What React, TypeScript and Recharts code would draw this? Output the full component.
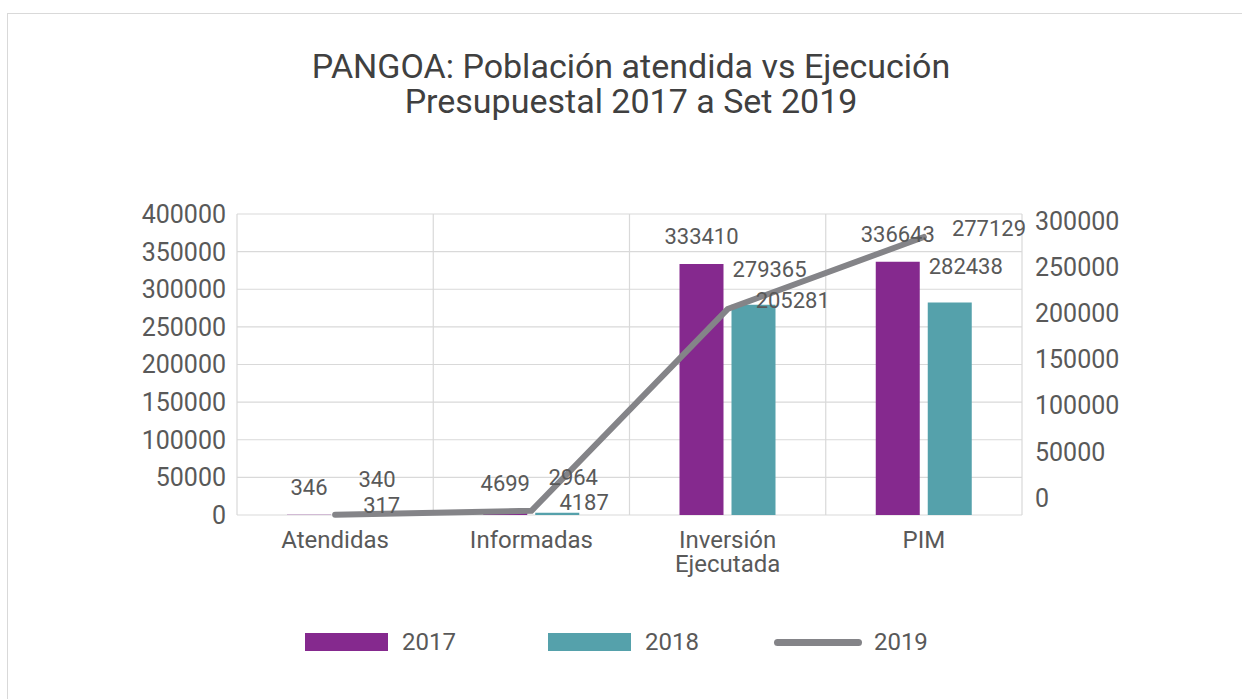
import React from 'react';
import {
  ComposedChart,
  Bar,
  Line,
  XAxis,
  YAxis,
  CartesianGrid,
  LabelList,
  Legend,
} from 'recharts';

const categories = ['Atendidas', 'Informadas', 'Inversión Ejecutada', 'PIM'];
const values2017 = [346, 4699, 333410, 336643];
const values2018 = [340, 2964, 279365, 282438];
const values2019 = [317, 4187, 205281, 277129];
const leftTicks = [0, 50000, 100000, 150000, 200000, 250000, 300000, 350000, 400000];
const rightTicks = [0, 50000, 100000, 150000, 200000, 250000, 300000];
const titleLines = ['PANGOA: Población atendida vs Ejecución', 'Presupuestal 2017 a Set 2019'];

const data = categories.map((name, i) => ({
  name,
  y2017: values2017[i],
  y2018: values2018[i],
  y2019: values2019[i],
}));

const FONT = 'Roboto, "Noto Sans", sans-serif';
const TEXT = '#595959';
const PURPLE = '#85298E';
const TEAL = '#55A1AB';
const GRAY = '#848488';
const GRID = '#d9d9d9';

const XTick = (props: any) => {
  const { x, y, payload } = props;
  const label = String(payload.value);
  const lines = label.length > 12 ? label.split(' ') : [label];
  return (
    <g>
      {lines.map((l, i) => (
        <text
          key={i}
          x={x}
          y={y + 33 + i * 24}
          textAnchor="middle"
          fill={TEXT}
          fontSize={24}
          fontFamily={FONT}
        >
          {l}
        </text>
      ))}
    </g>
  );
};

const LegendContent = () => {
  const items = [
    { label: '2017', type: 'rect', color: PURPLE, gap: 92 },
    { label: '2018', type: 'rect', color: TEAL, gap: 75 },
    { label: '2019', type: 'line', color: GRAY, gap: 0 },
  ];
  return (
    <div style={{ display: 'flex', alignItems: 'center', fontFamily: FONT }}>
      {items.map((it) => (
        <div
          key={it.label}
          style={{ display: 'flex', alignItems: 'center', marginRight: it.gap }}
        >
          {it.type === 'rect' ? (
            <div style={{ width: 83, height: 18, background: it.color }} />
          ) : (
            <div style={{ width: 88, height: 7, borderRadius: 4, background: it.color }} />
          )}
          <span
            style={{
              marginLeft: it.type === 'rect' ? 14 : 12,
              fontSize: 24,
              color: TEXT,
              lineHeight: '28px',
            }}
          >
            {it.label}
          </span>
        </div>
      ))}
    </div>
  );
};

export default function App() {
  return (
    <div
      style={{
        position: 'fixed',
        left: 0,
        top: 0,
        width: 1242,
        height: 699,
        overflow: 'hidden',
        background: '#fff',
      }}
    >
      <div
        style={{
          position: 'absolute',
          left: 7,
          top: 13,
          width: 1300,
          height: 800,
          border: `1.5px solid ${GRID}`,
          boxSizing: 'border-box',
        }}
      />
      {titleLines.map((t, i) => (
        <div
          key={i}
          style={{
            position: 'absolute',
            left: 0,
            top: 49 + i * 35,
            width: 1262,
            textAlign: 'center',
            fontFamily: FONT,
            fontSize: 34,
            lineHeight: '34px',
            color: '#404040',
            whiteSpace: 'nowrap',
          }}
        >
          {t}
        </div>
      ))}
      <div style={{ position: 'absolute', left: 0, top: 0 }}>
        <ComposedChart
          width={1242}
          height={699}
          data={data}
          margin={{ top: 214, right: 0, bottom: 124, left: 0 }}
          barGap={8}
        >
          <CartesianGrid
            yAxisId="left"
            stroke={GRID}
            strokeWidth={1.2}
            verticalCoordinatesGenerator={({ offset }: any) =>
              [0, 1, 2, 3, 4].map((i) => offset.left + (i * offset.width) / 4)
            }
          />
          <XAxis
            dataKey="name"
            tickLine={false}
            axisLine={false}
            tickSize={0}
            tickMargin={0}
            height={60}
            interval={0}
            tick={<XTick />}
          />
          <YAxis
            yAxisId="left"
            width={237}
            domain={[0, 400000]}
            ticks={leftTicks}
            tickLine={false}
            axisLine={false}
            tickSize={0}
            tickMargin={11}
            tick={{ fill: TEXT, fontSize: 25, fontFamily: FONT }}
          />
          <YAxis
            yAxisId="rightLabels"
            orientation="right"
            width={220}
            type="number"
            domain={[-18400, 307300]}
            allowDataOverflow
            ticks={rightTicks}
            tickLine={false}
            axisLine={false}
            tickSize={0}
            tickMargin={13}
            tick={{ fill: TEXT, fontSize: 25, fontFamily: FONT }}
          />
          <YAxis yAxisId="right" orientation="right" hide width={0} domain={[0, 300000]} />
          <Legend
            verticalAlign="middle"
            align="center"
            layout="horizontal"
            wrapperStyle={{ left: 305, top: 628, width: 700 }}
            content={<LegendContent />}
          />
          <Bar
            yAxisId="left"
            dataKey="y2017"
            name="2017"
            fill={PURPLE}
            barSize={44}
            isAnimationActive={false}
          >
            <LabelList
              dataKey="y2017"
              position="top"
              offset={20}
              fill={TEXT}
              fontSize={22}
              fontFamily={FONT}
            />
          </Bar>
          <Bar
            yAxisId="left"
            dataKey="y2018"
            name="2018"
            fill={TEAL}
            barSize={44}
            isAnimationActive={false}
          >
            <LabelList
              dataKey="y2018"
              position="top"
              offset={28}
              dx={16}
              fill={TEXT}
              fontSize={22}
              fontFamily={FONT}
            />
          </Bar>
          <Line
            yAxisId="right"
            dataKey="y2019"
            name="2019"
            stroke={GRAY}
            strokeWidth={6}
            strokeLinecap="round"
            strokeLinejoin="round"
            dot={false}
            activeDot={false}
            isAnimationActive={false}
          >
            <LabelList
              dataKey="y2019"
              position="right"
              offset={28}
              dy={-9}
              fill={TEXT}
              fontSize={22}
              fontFamily={FONT}
            />
          </Line>
        </ComposedChart>
      </div>
    </div>
  );
}
